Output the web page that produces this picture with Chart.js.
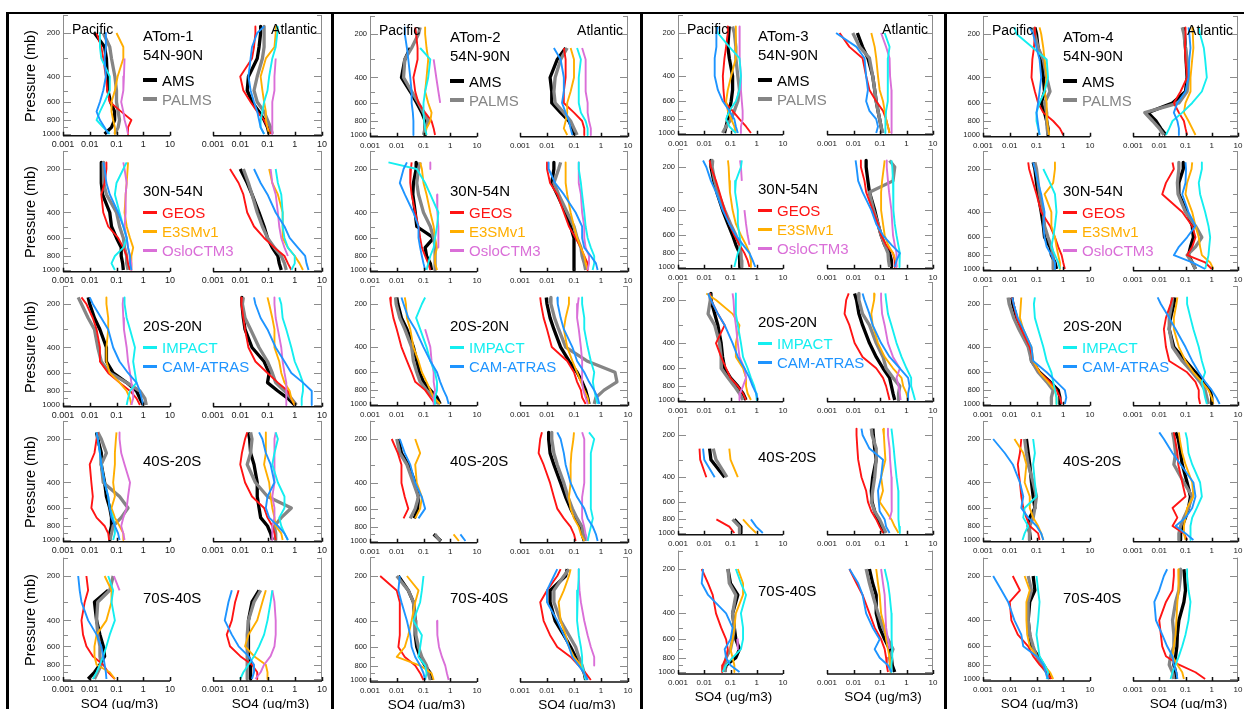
<!DOCTYPE html>
<html>
<head>
<meta charset="utf-8">
<script src="https://cdn.jsdelivr.net/npm/chart.js@4.4.1/dist/chart.umd.min.js"></script>
<style>
  html, body { margin: 0; padding: 0; }
  body { width: 1244px; height: 709px; overflow: hidden; background: #fff; position: relative;
         font-family: "Liberation Sans", Arial, Helvetica, sans-serif; }
  canvas { position: absolute; }
  .txt { position: absolute; white-space: nowrap; line-height: 1; }
  .rule { position: absolute; background: #000; }
</style>
</head>
<body>
<script>
// ---- DATA ----------------------------------------------------------------
const _ = null;

// pressure levels (mb) shared by every profile below
const pressureLevels = [180, 200, 250, 300, 400, 500, 600, 700, 800, 900, 1000];

const seriesNames  = ['AMS', 'PALMS', 'GEOS', 'E3SMv1', 'OsloCTM3', 'IMPACT', 'CAM-ATRAS'];
const seriesColors = ['#000000', '#858585', '#ff1414', '#ffae00', '#da6fd8', '#14eef0', '#1e94ff'];
const campaigns = ['ATom-1', 'ATom-2', 'ATom-3', 'ATom-4'];
const regions   = ['54N-90N', '30N-54N', '20S-20N', '40S-20S', '70S-40S'];

const concTicks       = [0.001, 0.01, 0.1, 1, 10];
const concTickLabels  = ['0.001', '0.01', '0.1', '1', '10'];
const pressureTicks   = [200, 400, 600, 800, 1000];
const pressureMinor   = [150, 300, 500, 700, 900];

// each block: rows are AMS, PALMS, GEOS, E3SMv1, OsloCTM3, IMPACT, CAM-ATRAS (SO4, ug/m3)
// ATom-1
const atom1_54N90N_pac = [
  [_, .015, .036, .042, .045, .048, .06, .085, .085, .065, .036],
  [_, .032, .056, .065, .087, .1, .1, .115, .13, .115, .087],
  [_, .018, .027, .032, .04, .045, .056, .15, .36, .27, .27],
  [_, .1, .18, .18, .11, .087, .065, .065, .075, .087, .087],
  [_, _, _, .2, .19, .18, .15, .18, .2, .24, .27],
  [_, .024, .024, .027, .056, .056, .036, .024, .018, .032, .056],
  [_, .04, .04, .036, .04, .032, .024, .018, .024, .036, .05]];
const atom1_54N90N_atl = [
  [.056, .056, .049, .042, .02, .018, .027, .049, .075, .1, .115],
  [.075, .075, .075, .065, .042, .032, .042, .075, .1, .13, .15],
  [.036, .036, .032, .027, .01, .013, .024, .042, .075, .1, .13],
  [.2, .2, .18, .087, .056, .065, .075, .087, .087, .1, .115],
  [_, _, _, .2, .18, .18, .15, .15, .15, .15, .15],
  [.24, .23, .2, .15, .115, .1, .075, .065, .056, .056, .075],
  [.075, .042, .027, .024, .02, .024, .032, .042, .049, .056, .075]];
const atom1_30N54N_pac = [
  [.027, .027, .027, .03, .056, .065, .1, .15, .15, .17, .18],
  [.032, .032, .034, .042, .1, .13, .18, .2, .24, .24, .27],
  [.042, .042, .036, .027, .032, .049, .115, .18, .24, .27, .32],
  [.27, .26, .24, .22, .2, .24, .32, .42, .36, .36, .36],
  [.18, .2, .24, .22, .22, .2, .24, .27, .32, .36, .36],
  [.24, .18, .1, .087, .13, .18, .24, .18, .087, .065, .087],
  [.032, .036, .042, .056, .115, .18, .24, .27, .32, .32, .36]];
const atom1_30N54N_atl = [
  [_, .01, .018, .027, .049, .075, .1, .15, .24, .27, .32],
  [_, .013, .02, .027, .042, .065, .1, .18, .32, .42, .49],
  [_, .0042, .0087, .013, .018, .032, .075, .18, .42, .56, .75],
  [_, .115, .15, .24, .36, .36, .36, .56, 1.0, 1.5, 2.0],
  [_, .13, .15, .2, .24, .27, .32, .42, .56, _, _],
  [_, .2, .24, .32, .36, .36, .42, .56, 1.0, 1.0, .75],
  [_, .032, .056, .1, .2, .42, .65, 1.3, 2.4, 2.7, 3.2]];
const atom1_20S20N_pac = [
  [.0087, .01, .015, .024, .042, .042, .075, .24, .56, .75, 1.0],
  [.0037, .0049, .0087, .015, .02, .027, .056, .24, .75, 1.15, 1.3],
  [.0049, .0075, .013, .018, .024, .024, .049, .13, .32, .56, .75],
  [.042, .042, .049, .049, .042, .042, .056, .13, .24, .32, .36],
  [.18, .17, .18, .19, .24, .27, .32, .36, .42, .42, .36],
  [.2, .2, .24, .32, .49, .42, .49, .56, .32, .27, .24],
  [.01, .013, .027, .049, .075, .13, .27, .56, .75, .87, 1.0]];
const atom1_20S20N_atl = [
  [.0115, .0115, .013, .015, .027, .075, .115, .1, .24, .56, 1.0],
  [.013, .012, .015, .024, .049, .1, .15, .2, .42, .75, 1.15],
  [.0115, .011, .013, .015, .02, .036, .1, .24, .56, .75, 1.0],
  [.1, .115, .15, .18, .18, .27, .32, .42, .65, .75, 1.0],
  [.18, .18, .2, .24, .32, .36, .42, .49, .49, .49, .49],
  [.27, .32, .36, .49, .75, 1.0, 1.5, 2.0, 2.0, 1.8, 1.8],
  [.032, .036, .056, .1, .2, .42, .75, 2.0, 4.2, 4.2, 4.2]];
const atom1_40S20S_pac = [
  [.018, .02, .027, .027, .036, .042, .056, .065, .065, .056, .056],
  [.02, .027, .042, .027, .032, .13, .27, .15, .075, .065, .056],
  [.02, .018, .015, .01, .0115, .013, .0115, .018, .036, .049, .053],
  [.1, .095, .087, .087, .075, .087, .065, .087, .13, .18, .18],
  [.13, .13, .15, .2, .32, .27, .24, .18, .15, .18, .2],
  [.018, .02, .024, .027, .036, .049, .056, .075, .087, .087, .075],
  [.018, .02, .024, .027, .036, .049, .056, .065, .087, .115, .13]];
const atom1_40S20S_atl = [
  [.02, .022, .024, .032, .042, .042, .049, .056, .1, .13, .15],
  [.024, .027, .024, .018, .036, .1, .75, .32, .18, .2, .2],
  [.018, .015, .0115, .01, .015, .027, .075, .1, .15, .18, .2],
  [.087, .087, .087, .075, .115, .13, .15, .18, .2, .32, .36],
  [.2, .18, .18, .18, .18, .15, .18, .18, .15, .15, .15],
  [.2, .24, .18, .15, .24, .42, .42, .27, .32, .42, .56],
  [.049, .065, .087, .13, .18, .1, .087, .115, .24, .42, .56]];
const atom1_70S40S_pac = [
  [_, _, .049, .015, .018, .024, .032, .036, .024, .015, .0087],
  [_, .075, .056, .02, .018, .02, .024, .024, .027, .02, .015],
  [_, .0075, .0087, .0065, .0049, .0056, .0075, .013, .032, .049, .087],
  [_, .036, .065, .065, .042, .018, .015, .015, .018, .056, .087],
  [_, .08, .13, _, _, _, _, _, _, _, _],
  [_, .049, .075, .065, .087, .056, .042, .032, .024, .018, .013],
  [_, .0037, .0042, .0049, .0087, .018, .027, .032, .036, .04, .042]];
const atom1_70S40S_atl = [
  [_, _, .049, .027, .02, .02, .02, .02, .024, .024, .024],
  [_, _, .056, .032, .02, .018, .018, .018, .018, .018, .018],
  [_, _, .0087, .0065, .0049, .0032, .0042, .01, .027, .042, .042],
  [_, _, .087, .065, .042, .02, .015, .032, .087, .1, .1],
  [_, _, .15, .18, .2, .2, .18, .13, .075, .056, .036],
  [_, _, .15, .13, .1, .075, .049, .032, .02, .013, .01],
  [_, _, .0049, .0037, .0027, .0049, .0087, .02, .032, .032, .027]];

// ATom-2
const atom2_54N90N_pac = [
  [_, _, .032, .02, .015, .032, .056, .087, .115, .115, .115],
  [.075, .065, .036, .02, .018, .036, .065, .1, .15, .115, .1],
  [.049, .053, .06, .06, .042, .049, .065, .115, .2, .24, .27],
  [.115, .115, .13, .15, .13, .115, .15, .2, .18, .13, .115],
  [_, _, _, .24, .3, .36, .42, _, _, _, _],
  [_, _, .075, .18, .15, .115, .1, .1, .105, .115, .13],
  [.02, .02, .024, .027, .032, .036, .036, .04, .042, .042, .042]];
const atom2_54N90N_atl = [
  [_, _, .049, .024, .013, .015, .015, .032, .065, .087, .1],
  [_, _, .056, .032, .02, .018, .02, .042, .075, .1, .13],
  [_, _, .042, .049, .049, .042, .042, .1, .2, .24, .24],
  [_, _, .075, .1, .1, .075, .056, .056, .049, .042, .056],
  [_, _, .2, .27, .27, .27, .32, .32, .36, .42, .42],
  [_, _, .13, .18, .15, .15, .15, .18, .27, .32, .32],
  [_, _, .018, .032, .042, .042, .036, .049, .065, .075, .087]];
const atom2_30N54N_pac = [
  [.056, .053, .042, .04, .049, .056, .24, .115, .13, .18, .2],
  [.075, .065, .056, .065, .1, .18, .24, .27, .27, .27, .27],
  [.036, .034, .032, .036, .049, .065, .075, .087, .115, .15, .18],
  [.075, .087, .1, .13, .18, .24, .27, .32, .27, .27, .32],
  [.18, .18, _, .32, .33, .36, .36, .36, _, _, _],
  [.0049, .056, .115, .18, .36, .32, .27, .24, .18, .15, .13],
  [.024, .018, .013, .02, .042, .065, .065, .075, .087, .1, .115]];
const atom2_30N54N_atl = [
  [.018, .018, .015, .024, .049, .075, .1, .1, .1, .1, .1],
  [.032, .027, .018, .027, .056, .1, .13, .18, .2, .24, .27],
  [.01, .01, .013, .024, .042, .065, .115, .18, .24, .32, .32],
  [.049, .049, .049, .056, .075, .1, .13, .18, .24, .27, .32],
  [.15, .15, .15, .18, .2, .24, .24, .27, .36, .36, .32],
  [.15, .15, .18, .2, .24, .27, .32, .42, .56, .56, .49],
  [.0115, .0115, .02, .042, .115, .2, .2, .24, .42, .65, .75]];
const atom2_20S20N_pac = [
  [.01, .011, .015, .024, .042, .056, .07, .1, .18, .32, .42],
  [.009, .0095, .013, .02, .036, .042, .056, .075, .13, .24, .36],
  [.0056, .006, .0075, .01, .015, .024, .036, .049, .115, .18, .27],
  [.02, .022, .024, .032, .042, .065, .087, .13, .18, .24, .42],
  [_, _, _, .115, .18, .2, .24, .24, .27, .24, .24],
  [.115, .087, .053, .075, .13, .18, .27, .32, .32, .27, .27],
  [.015, .018, .027, .049, .1, .18, .32, .42, .56, .75, .87]];
const atom2_20S20N_atl = [
  [.0094, .01, .013, .018, .032, .065, .13, .2, .27, .32, .36],
  [.013, .014, .019, .027, .049, .3, 3.3, 3.9, 1.3, .65, .56],
  [.0056, .006, .0075, .01, .015, .056, .1, .13, .18, .2, .27],
  [.065, .065, .049, .042, .056, .087, .13, .18, .24, .32, .36],
  [.15, .14, .13, .15, .18, .2, .2, .2, .22, .27, .32],
  [.2, .2, .24, .24, .32, .42, .56, .5, .56, .65, .75],
  [.024, .025, .032, .042, .087, .13, .24, .36, .56, .75, .87]];
const atom2_40S20S_pac = [
  [_, .0115, .015, .027, .049, .065, .06, .045, _, .24, .45],
  [_, .01, .013, .024, .042, .065, .049, .032, _, .27, .42],
  [_, .0065, .011, .015, .015, .02, .027, .018, _, _, _],
  [_, .049, .075, .049, .056, .087, .075, .049, _, 1.33, 2.1],
  [_, _, _, _, _, _, _, _, _, _, _],
  [_, _, _, _, _, _, _, _, _, _, _],
  [_, .013, .02, .032, .049, .087, .115, .065, _, 2.4, 3.7]];
const atom2_40S20S_atl = [
  [.0115, .0115, .013, .018, .032, .049, .075, .115, .18, .2, .24],
  [.015, .015, .018, .024, .042, .06, .087, .13, .2, .22, .27],
  [.0065, .0056, .0049, .0075, .013, .018, .024, .042, .075, .1, .115],
  [.1, .095, .08, .075, .075, .065, .075, .1, .15, .18, .24],
  [.2, .24, .24, .24, .24, .2, .2, .2, .24, .27, .32],
  [.36, .56, .42, .42, .42, .42, .42, .5, .42, .36, .32],
  [.024, .032, .042, .049, .075, .13, .24, .32, .5, .65, .75]];
const atom2_70S40S_pac = [
  [_, .0115, .027, .042, .049, .049, .056, .075, .115, .18, .2],
  [_, .01, .027, .042, .049, .052, .065, .087, .13, .15, .18],
  [_, .0024, .01, .013, .013, .013, .0115, .02, .049, .075, .1],
  [_, .024, .065, .049, .036, .027, .02, .01, .075, .2, .24],
  [_, _, _, _, .32, .33, .38, .49, .65, .75, .87],
  [_, .1, .087, .075, .042, .087, .075, .065, .115, .13, .115],
  [_, .013, .0115, .015, .024, .032, .036, .049, .075, .1, .115]];
const atom2_70S40S_atl = [
  [.056, .049, .013, .013, .02, .042, .075, .115, .18, .24, .27],
  [.065, .042, .018, .018, .032, .065, .115, .15, .2, .24, .3],
  [.032, .024, .01, .0056, .0075, .013, .024, .075, .15, .27, .42],
  [.075, .065, .042, .027, .032, .049, .065, .1, .18, .24, .28],
  [.15, .15, .16, .18, .24, .32, .42, .56, .56, _, _],
  [.15, .15, .14, .13, .13, .15, .18, .2, .2, .24, .27],
  [.024, .018, .01, .01, .024, .042, .065, .087, .15, .24, .32]];

// ATom-3
const atom3_54N90N_pac = [
  [.09, .086, .079, .09, .12, .12, .106, .09, .079, .068, .059],
  [.12, .14, .16, .16, .19, .22, .19, .14, .106, .068, .05],
  [.079, .079, .068, .059, .051, .054, .059, .12, .22, .39, .6],
  [.16, .16, .16, .16, .106, .079, .068, .079, .106, .14, .16],
  [.22, .22, .22, .23, .25, .25, .27, .29, .29, .25, .25],
  [.029, .033, .09, .22, .25, .22, .16, .09, .068, .09, .16],
  [.033, .029, .029, .025, .025, .033, .051, .09, .14, .16, .19]];
const atom3_54N90N_atl = [
  [_, .014, .022, .035, .053, .063, .072, .084, .097, .11, .12],
  [_, .0094, .017, .04, .053, .063, .072, .084, .097, .11, .13],
  [_, .003, .007, .022, .03, .04, .072, .13, .17, .2, .23],
  [_, .047, .063, .072, .084, .097, .13, .15, .17, .2, .23],
  [_, .11, .17, .23, .24, .27, .28, .28, .27, .27, .27],
  [_, .15, .23, .2, .2, .2, .19, .17, .16, .16, .16],
  [_, .0022, .013, .026, .03, .035, .03, .04, .072, .084, .072]];
const atom3_30N54N_pac = [
  [.018, .018, .023, .03, .05, .08, .12, .16, .22, .22, .23],
  [.021, .02, .025, .033, .06, .1, .16, .22, .25, .26, .27],
  [.016, .018, .028, .038, .06, .09, .14, .22, .34, .45, .53],
  [.08, .085, .09, .095, .12, .16, .25, .39, .53, .6, .6],
  [.23, .25, .27, _, .34, .39, .45, .53, _, _, _],
  [.27, .25, .16, .15, .19, .19, .22, .25, .19, .16, .14],
  [.009, .012, .018, .028, .05, .09, .16, .3, .53, .7, .88]];
const atom3_30N54N_atl = [
  [.03, .03, .035, .04, .063, .084, .11, .15, .23, .27, .27],
  [.23, .36, .31, .04, .057, .084, .11, .15, .2, .21, .23],
  [.019, .019, .026, .03, .053, .084, .11, .17, .31, .36, .36],
  [.15, .14, .12, .11, .11, .13, .15, .2, .31, .39, .42],
  [.18, .18, .2, .22, .27, .29, .31, .36, .42, .42, .42],
  [.27, .29, .31, .31, .33, .36, .42, .49, .56, .56, .53],
  [.012, .013, .015, .022, .047, .072, .13, .27, .56, .42, .36]];
const atom3_20S20N_pac = [
  [.018, .018, .025, .033, .044, .05, .06, .1, .19, .3, .39],
  [.016, .017, .014, .025, .038, .044, .044, .08, .14, .22, .3],
  [.016, .018, .033, .06, .028, .044, .068, .1, .19, .3, .39],
  [.012, .028, .12, .22, .16, .16, .3, .39, .39, .45, .6],
  [.12, .13, .14, .16, .19, .22, .34, .39, .3, .23, .22],
  [.16, .16, .16, .19, .25, .3, .45, .6, .8, .95, 1.0],
  [.014, .018, .033, .06, .12, .19, .34, .53, .7, .95, 1.1]];
const atom3_20S20N_atl = [
  [.011, .013, .016, .022, .04, .072, .13, .23, .27, .31, .36],
  [.015, .016, .022, .04, .072, .13, .17, .31, .56, .5, .5],
  [.0066, .0053, .0046, .007, .011, .022, .072, .13, .17, .2, .23],
  [.063, .06, .047, .053, .084, .15, .31, .65, .75, 1.0, 1.15],
  [.11, .11, .12, .15, .2, .31, .56, .42, .5, .56, .6],
  [.16, .17, .2, .27, .42, .65, 1.0, 1.5, 1.5, 1.8, 2.1],
  [.022, .026, .04, .053, .11, .23, .56, 1.15, 1.3, 1.15, 1.15]];
const atom3_40S20S_pac = [
  [_, _, .016, .018, .06, _, _, _, .14, .25, .25],
  [_, _, .022, .028, .073, _, _, _, .12, .22, .22],
  [_, _, .0066, .007, .012, _, _, _, .029, .09, .14],
  [_, _, .09, .1, .19, _, _, _, .3, .53, .95],
  [_, _, _, _, _, _, _, _, _, _, _],
  [_, _, _, _, _, _, _, _, _, _, _],
  [_, _, .009, .01, .025, _, _, _, .6, .95, 1.7]];
const atom3_40S20S_atl = [
  [.054, .056, .063, .072, .053, .047, .05, .063, .084, .11, .15],
  [.047, .05, .072, .072, .063, .053, .047, .063, .097, .13, .17],
  [.013, .013, .014, .015, .02, .03, .035, .047, .072, .097, .13],
  [.13, .14, .15, .16, .11, .13, .097, .17, .27, .36, .5],
  [.2, .2, .23, .24, .27, .27, .28, .28, .23, _, _],
  [.27, .29, .33, .36, .42, .49, .49, .5, .5, .53, .56],
  [.02, .022, .04, .13, .11, .084, .09, .097, .15, .17, .23]];
const atom3_70S40S_pac = [
  [_, .08, .1, .19, .12, .14, .16, .22, .16, .068, .06],
  [_, .08, .09, .16, .12, .14, .12, .1, .068, .06, .064],
  [_, .008, .014, .021, .028, .044, .068, .079, .068, .05, .048],
  [_, .19, .3, .3, .16, .14, .12, .1, .12, .14, .14],
  [_, _, _, _, _, _, .18, .19, _, _, _],
  [_, .16, .25, .39, .25, .3, .3, .25, .12, .068, .05],
  [_, .009, .008, .014, .068, .12, .1, .06, .068, .1, .22]];
const atom3_70S40S_atl = [
  [_, .04, .053, .072, .072, .097, .15, .23, .27, .29, .36],
  [_, .03, .04, .053, .084, .13, .2, .31, .23, .25, .27],
  [_, .007, .013, .022, .04, .063, .11, .15, .17, .18, .2],
  [_, .072, .084, .097, .11, .15, .17, .2, .23, .24, .25],
  [_, .11, .13, .15, .16, .17, .2, .23, _, _, _],
  [_, .15, .2, .23, .27, .27, .28, .29, .29, .27, .27],
  [_, .007, .015, .022, .03, .053, .097, .063, .097, .2, .27]];

// ATom-4 (no OsloCTM3 profiles)
const atom4_54N90N_pac = [
  [.087, .1, .115, .15, .18, .2, .15, .2, .24, .27, .27],
  [.075, .087, .115, .18, .24, .32, .2, .24, .24, .25, .27],
  [.087, .087, .08, .07, .065, .087, .115, .18, .42, .75, 1.0],
  [.13, .15, .18, .2, .24, .2, .24, .24, .25, .27, .3],
  [_, _, _, _, _, _, _, _, _, _, _],
  [.015, .018, .075, .24, .27, .2, .13, .1, .1, .115, .13],
  [.056, .075, .1, .13, .15, .13, .115, .1, .11, .12, .13]];
const atom4_54N90N_atl = [
  [.087, .092, .1, .105, .115, .1, .032, .0037, .0075, .0115, .018],
  [.075, .087, .1, .115, .13, .115, .056, .0028, .0056, .01, .015],
  [.1, .1, .095, .1, .115, .065, .036, .056, .087, .1, .115],
  [.18, .19, .2, .18, .155, .155, .1, .087, .13, .18, .24],
  [_, _, _, _, _, _, _, _, _, _, _],
  [.32, .36, .5, .56, .65, .42, .18, .075, .032, .024, .018],
  [.13, .14, .155, .14, .13, .1, .049, .036, .049, .056, .056]];
const atom4_30N54N_pac = [
  [.075, .087, .1, .115, .15, .18, .2, .32, .36, .49, .56],
  [.087, .1, .115, .13, .18, .2, .27, .36, .42, .42, .42],
  [.049, .053, .075, .1, .15, .32, .49, .65, .87, 1.0, 1.15],
  [.49, .49, .42, .2, .36, .36, .49, .56, .65, .75, .75],
  [_, _, _, _, _, _, _, _, _, _, _],
  [_, .18, .32, .49, .56, .49, .42, .36, .49, .65, .75],
  [.075, .087, .115, .15, .2, .18, .2, .24, .36, .49, .49]];
const atom4_30N54N_atl = [
  [.087, .082, .056, .056, .115, .18, .2, .155, .13, .18, .24],
  [.056, .056, .049, .052, .1, .24, .42, .24, .115, .18, .24],
  [.032, .036, .018, .013, .075, .18, .24, .18, .115, .56, 1.0],
  [.18, .17, .115, .1, .18, .24, .32, .36, .42, .87, 1.15],
  [_, _, _, _, _, _, _, _, _, _, _],
  [.42, .42, .32, .36, .56, .75, .87, .8, .75, .65, .56],
  [.1, .105, .1, .075, .13, .24, .115, .056, .036, .18, .56]];
const atom4_20S20N_pac = [
  [.012, .013, .018, .027, .056, .065, .13, .32, .65, .75, .75],
  [.0087, .0095, .014, .022, .049, .065, .115, .24, .42, .36, .36],
  [.012, .014, .018, .027, .056, .075, .13, .32, .56, .75, .87],
  [.027, .026, .024, .032, .065, .075, .13, .27, .49, .56, .56],
  [_, _, _, _, _, _, _, _, _, _, _],
  [.087, .08, .087, .115, .18, .24, .36, .42, .49, .56, .56],
  [.0125, .014, .02, .032, .065, .075, .24, .56, 1.15, 1.3, 1.15]];
const atom4_20S20N_atl = [
  [.04, .036, .027, .024, .036, .1, .24, .49, .87, 1.0, 1.0],
  [.032, .03, .024, .024, .032, .075, .18, .36, .56, .65, .75],
  [.032, .027, .018, .015, .018, .024, .115, .24, .32, .32, .36],
  [.049, .045, .036, .036, .056, .1, .2, .42, .75, 1.0, 1.15],
  [_, _, _, _, _, _, _, _, _, _, _],
  [.115, .115, .155, .2, .32, .42, .56, .42, .49, .56, .65],
  [.0087, .0115, .024, .042, .1, .18, .32, .56, 1.0, 1.5, 2.0]];
const atom4_40S20S_pac = [
  [_, .042, .049, .056, .065, .075, .087, .056, .049, .056, .06],
  [_, .036, .042, .049, .075, .1, .087, .075, .056, .053, .056],
  [_, .027, .024, .02, .024, .027, .032, .042, .056, .115, .13],
  [_, .015, .032, .042, .036, .056, .056, .075, .115, .15, .18],
  [_, _, _, _, _, _, _, _, _, _, _],
  [_, .075, .087, .075, .087, .1, .036, .032, .049, .036, .03],
  [_, .0024, .0065, .013, .024, .032, .027, .049, .1, .15, .18]];
const atom4_40S20S_atl = [
  [.042, .053, .065, .075, .115, .155, .13, .1, .075, .065, .065],
  [.032, .036, .042, .036, .087, .18, .13, .087, .065, .056, .056],
  [.036, .04, .049, .053, .075, .1, .032, .049, .032, .087, .115],
  [.056, .06, .075, .1, .18, .2, .115, .1, .087, .087, .1],
  [_, _, _, _, _, _, _, _, _, _, _],
  [.1, .115, .13, .18, .36, .42, .27, .18, .155, .155, .155],
  [.01, .015, .032, .065, .2, .24, .18, .1, .042, .1, .2]];
const atom4_70S40S_pac = [
  [_, .075, .087, .056, .049, .056, .065, .115, .18, .27, .32],
  [_, .049, .065, .049, .049, .056, .075, .1, .15, .24, .27],
  [_, .013, .024, .01, .0115, .02, .049, .075, .13, .24, .36],
  [_, .036, .056, .042, .042, .045, .056, .1, .18, .32, .42],
  [_, _, _, _, _, _, _, _, _, _, _],
  [_, .1, .115, .13, .115, .1, .115, .13, .2, .27, .24],
  [_, .0024, .0049, .0087, .015, .027, .032, .1, .18, .22, .27]];
const atom4_70S40S_atl = [
  [.087, .092, .1, .087, .056, .049, .047, .042, .036, .042, .045],
  [.065, .065, .056, .042, .032, .036, .036, .027, .024, .032, .036],
  [.036, .036, .032, .018, .01, .0115, .013, .018, .056, .24, .56],
  [.053, .056, .053, .049, .045, .042, .036, .032, .049, .075, .087],
  [_, _, _, _, _, _, _, _, _, _, _],
  [.115, .115, .13, .155, .13, .1, .075, .056, .042, .032, .027],
  [.02, .015, .01, .0065, .0075, .013, .02, .032, .036, .045, .049]];

// campaign -> region -> [Pacific, Atlantic]
const profileTable = [
  [[atom1_54N90N_pac, atom1_54N90N_atl], [atom1_30N54N_pac, atom1_30N54N_atl], [atom1_20S20N_pac, atom1_20S20N_atl], [atom1_40S20S_pac, atom1_40S20S_atl], [atom1_70S40S_pac, atom1_70S40S_atl]],
  [[atom2_54N90N_pac, atom2_54N90N_atl], [atom2_30N54N_pac, atom2_30N54N_atl], [atom2_20S20N_pac, atom2_20S20N_atl], [atom2_40S20S_pac, atom2_40S20S_atl], [atom2_70S40S_pac, atom2_70S40S_atl]],
  [[atom3_54N90N_pac, atom3_54N90N_atl], [atom3_30N54N_pac, atom3_30N54N_atl], [atom3_20S20N_pac, atom3_20S20N_atl], [atom3_40S20S_pac, atom3_40S20S_atl], [atom3_70S40S_pac, atom3_70S40S_atl]],
  [[atom4_54N90N_pac, atom4_54N90N_atl], [atom4_30N54N_pac, atom4_30N54N_atl], [atom4_20S20N_pac, atom4_20S20N_atl], [atom4_40S20S_pac, atom4_40S20S_atl], [atom4_70S40S_pac, atom4_70S40S_atl]]
];

// ---- LAYOUT --------------------------------------------------------------
const P_MIN = 150, P_MAX = 1030;
// plot boxes per campaign column: x of 0.001 and 10, y of 200 mb and 1000 mb for each row
const columnLayout = [
  { pac: [63, 170],   atl: [213, 322],   y200: [33, 169, 304, 439, 576], y1000: [134, 270, 405, 540, 679], xFont: 9, yFont: 8 },
  { pac: [370, 477],  atl: [520, 628],   y200: [34, 169, 304, 439, 576], y1000: [135, 270, 404, 541, 680], xFont: 8, yFont: 7.5 },
  { pac: [678, 783],  atl: [827, 933],   y200: [33, 167, 300, 435, 569], y1000: [133, 267, 400, 533, 672], xFont: 8, yFont: 7.5 },
  { pac: [983, 1090], atl: [1133, 1238], y200: [34, 169, 304, 439, 576], y1000: [135, 269, 404, 540, 679], xFont: 8, yFont: 7.5 }
];
const dividers = [6, 331, 640, 944];
const legendRows = [[0, 1], [2, 3, 4], [5, 6]];   // series listed under each region label

// ---- AXES PLUGIN ---------------------------------------------------------
const profileAxes = {
  id: 'profileAxes',
  afterDatasetsDraw(chart, args, opts) {
    const { ctx, chartArea: a, scales: { x, y } } = chart;
    const left = opts.side === 'left';
    const ax = left ? a.left : a.right;
    const dir = left ? 1 : -1;
    ctx.save();
    ctx.lineCap = 'butt';

    // pressure axis, ticks pointing into the plot
    ctx.strokeStyle = '#8c8c8c';
    ctx.lineWidth = 1;
    ctx.beginPath();
    ctx.moveTo(ax + 0.5 * dir, a.top);
    ctx.lineTo(ax + 0.5 * dir, a.bottom);
    pressureTicks.concat(pressureMinor).forEach(p => {
      const py = Math.round(y.getPixelForValue(p)) + 0.5;
      const len = pressureTicks.includes(p) ? 8 : 5;
      ctx.moveTo(ax, py);
      ctx.lineTo(ax + len * dir, py);
    });
    ctx.stroke();

    if (opts.labels) {
      ctx.fillStyle = '#1a1a1a';
      ctx.font = opts.yFont + 'px "Liberation Sans", Arial, sans-serif';
      ctx.textAlign = 'right';
      ctx.textBaseline = 'middle';
      pressureTicks.forEach(p => ctx.fillText(String(p), ax - 3, y.getPixelForValue(p)));
    }

    // concentration axis
    ctx.strokeStyle = '#111';
    ctx.lineWidth = 1.5;
    ctx.beginPath();
    ctx.moveTo(a.left, a.bottom);
    ctx.lineTo(a.right, a.bottom);
    concTicks.forEach(v => {
      const px = Math.round(x.getPixelForValue(v)) + 0.5;
      ctx.moveTo(px, a.bottom);
      ctx.lineTo(px, a.bottom - 4);
    });
    ctx.stroke();
    ctx.fillStyle = '#1a1a1a';
    ctx.font = opts.xFont + 'px "Liberation Sans", Arial, sans-serif';
    ctx.textAlign = 'center';
    ctx.textBaseline = 'middle';
    concTicks.forEach((v, i) => ctx.fillText(concTickLabels[i], x.getPixelForValue(v), a.bottom + 9));
    ctx.restore();
  }
};

// ---- BUILD ---------------------------------------------------------------
function addText(text, x, y, size, color, shift, rotate) {
  const d = document.createElement('div');
  d.className = 'txt';
  d.textContent = text;
  d.style.left = x + 'px';
  d.style.top = y + 'px';
  d.style.fontSize = size + 'px';
  d.style.color = color || '#000';
  d.style.transform = 'translate(' + (shift || '0') + ', -50%)' + (rotate ? ' rotate(' + rotate + 'deg)' : '');
  document.body.appendChild(d);
  return d;
}

function addRule(x, y, w, h, color) {
  const d = document.createElement('div');
  d.className = 'rule';
  d.style.cssText = 'left:' + x + 'px;top:' + y + 'px;width:' + w + 'px;height:' + h + 'px;background:' + (color || '#000');
  document.body.appendChild(d);
}

function makePanel(col, row, basin) {
  const g = columnLayout[col];
  const [xl, xr] = basin === 0 ? g.pac : g.atl;
  const y200 = g.y200[row], y1000 = g.y1000[row];
  const perLn = (y1000 - y200) / Math.log(1000 / 200);
  const top = y200 - perLn * Math.log(200 / P_MIN);
  const bottom = y1000 + perLn * Math.log(P_MAX / 1000);

  const padL = 40, padR = 14;
  const cTop = Math.floor(top) - 6;
  const cBottom = Math.ceil(bottom) + 20;
  const canvas = document.createElement('canvas');
  canvas.width = (xr - xl) + padL + padR;
  canvas.height = cBottom - cTop;
  canvas.style.left = (xl - padL) + 'px';
  canvas.style.top = cTop + 'px';
  document.body.appendChild(canvas);

  const rows = profileTable[col][row][basin];
  const datasets = [];
  rows.forEach((vals, i) => {
    if (vals.every(v => v === null)) return;
    const obs = i < 2;
    datasets.push({
      label: seriesNames[i],
      data: pressureLevels.map((p, k) => ({ x: vals[k], y: p })),
      borderColor: seriesColors[i],
      borderWidth: obs ? 3.3 : 1.9,
      order: seriesNames.length - 1 - i,
      spanGaps: false,
      pointRadius: 0,
      tension: 0,
      borderJoinStyle: 'round',
      borderCapStyle: 'butt',
      fill: false
    });
  });

  new Chart(canvas, {
    type: 'line',
    data: { datasets },
    options: {
      indexAxis: 'y',
      responsive: false,
      animation: false,
      events: [],
      devicePixelRatio: 1,
      layout: { padding: { left: padL, right: padR, top: top - cTop, bottom: cBottom - bottom } },
      scales: {
        x: { type: 'logarithmic', min: 0.001, max: 10, display: false },
        y: { type: 'logarithmic', min: P_MIN, max: P_MAX, reverse: true, display: false }
      },
      plugins: {
        legend: { display: false },
        tooltip: { enabled: false },
        profileAxes: { side: basin === 0 ? 'left' : 'right', labels: basin === 0, xFont: g.xFont, yFont: g.yFont }
      }
    },
    plugins: [profileAxes]
  });
}

for (let c = 0; c < 4; c++) {
  for (let r = 0; r < 5; r++) {
    makePanel(c, r, 0);
    makePanel(c, r, 1);
  }
}

// frame around the campaign columns
addRule(6, 12, 1238, 2);
dividers.forEach(x => addRule(x, 12, 3, 697));

// titles, region names, legend, axis titles
columnLayout.forEach((g, c) => {
  const lx = g.pac[0] + 80;
  addText('Pacific', g.pac[0] + 9, g.y200[0] - 4, 14);
  addText('Atlantic', g.atl[1] - 5, g.y200[0] - 4, 14, '#000', '-100%');
  addText(campaigns[c], lx, g.y200[0] + 2, 15);
  regions.forEach((reg, r) => addText(reg, lx, g.y200[r] + 21, 15));

  legendRows.forEach((items, r) => {
    items.forEach((s, k) => {
      const y = g.y200[r] + (r === 0 ? 47 : 43) + k * (r === 0 ? 18.5 : 19);
      const thick = s < 2 ? 4 : 3;
      addRule(lx, y - thick / 2, 14, thick, seriesColors[s]);
      addText(seriesNames[s], lx + 19, y, 15, seriesColors[s]);
    });
  });

  const yb = g.y1000[4] + 25;
  addText('SO4 (ug/m3)', (g.pac[0] + g.pac[1]) / 2 + 3, yb, 13.5, '#000', '-50%');
  addText('SO4 (ug/m3)', (g.atl[0] + g.atl[1]) / 2 + 3, yb, 13.5, '#000', '-50%');
});

// pressure axis titles on the first column
columnLayout[0].y200.forEach((y200, r) => {
  const cy = (y200 + columnLayout[0].y1000[r]) / 2 - 8;
  addText('Pressure (mb)', 30, cy, 14.5, '#000', '-50%', -90);
});
</script>
</body>
</html>
